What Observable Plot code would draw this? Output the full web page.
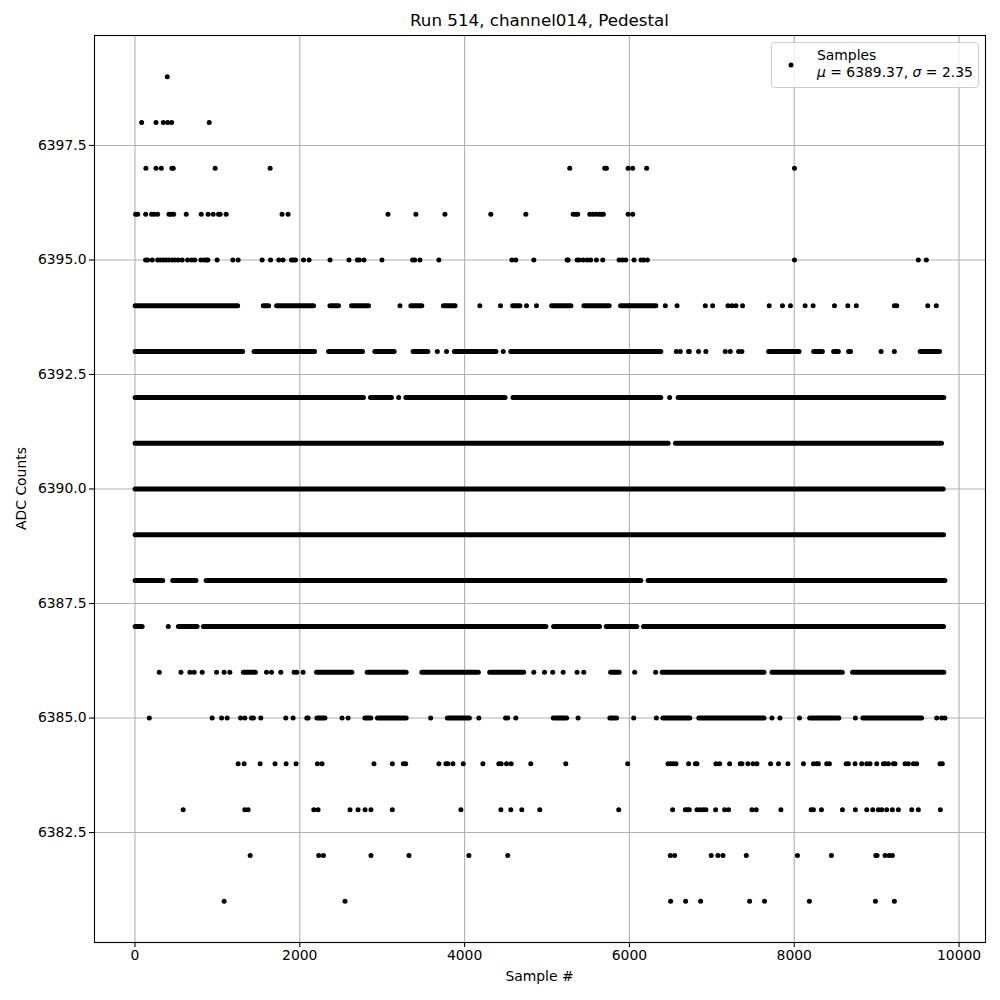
<!DOCTYPE html>
<html><head><meta charset="utf-8">
<script src="https://cdn.jsdelivr.net/npm/d3@7"></script>
<script src="https://cdn.jsdelivr.net/npm/@observablehq/plot@0.6"></script>
<style>body{margin:0;background:#fff}#chart{width:1000px;height:1000px}</style>
</head><body><div id="chart"></div>
<script>
const titleText = "Run 514, channel014, Pedestal";
const xLabel = "Sample #";
const yLabel = "ADC Counts";
const xTicks = [0, 2000, 4000, 6000, 8000, 10000];
const yTicks = [6382.5, 6385, 6387.5, 6390, 6392.5, 6395, 6397.5];
const legendName = "Samples";
const meanValue = 6389.37;
const sigmaValue = 2.35;

// ADC levels (one row of samples per level)
const adcLevels = [6399, 6398, 6397, 6396, 6395, 6394, 6393, 6392, 6391, 6390, 6389, 6388, 6387, 6386, 6385, 6384, 6383, 6382, 6381];

// individually visible samples per level (sample numbers)
const dotSamples = [
  [392],
  [81, 255, 344, 397, 445, 901],
  [133, 255, 319, 448, 464, 973, 1640, 5276, 5700, 5721, 5984, 6040, 6209, 8003],
  [8, 33, 130, 202, 234, 275, 412, 436, 469, 622, 804, 888, 949, 1014, 1033, 1106, 1785, 1858, 3070, 3409, 3761, 4318, 4743, 5317, 5349, 5373, 5519, 5555, 5591, 5632, 5660, 5684, 5984, 6040],
  [129, 154, 210, 275, 307, 343, 376, 412, 452, 485, 525, 573, 638, 687, 727, 800, 840, 869, 885, 997, 1188, 1252, 1543, 1645, 1745, 1797, 1899, 1923, 1948, 2045, 2113, 2367, 2597, 2699, 2723, 2780, 2997, 3369, 3394, 3458, 3688, 4573, 4621, 4840, 5244, 5256, 5365, 5390, 5438, 5487, 5530, 5600, 5676, 5875, 5915, 5955, 6056, 6141, 6173, 6218, 8003, 9506, 9603],
  [3216, 4185, 4436, 4751, 4872, 6436, 6578, 6921, 7010, 7196, 7244, 7293, 7373, 7696, 7857, 7954, 8132, 8229, 8488, 8650, 8754, 9215, 9244, 9620, 9724],
  [3669, 3781, 4469, 6569, 6617, 6718, 6727, 6839, 6928, 7163, 7224, 7325, 7365, 9054, 9215],
  [3200, 6488],
  [],
  [],
  [],
  [],
  [404],
  [295, 558, 667, 719, 816, 990, 1082, 1151, 1596, 1657, 1770, 1931, 1963, 2040, 4840, 4969, 5070, 5196, 5365, 5446, 6064, 6318],
  [174, 937, 1051, 1119, 1281, 1333, 1414, 1438, 1527, 1830, 1919, 2085, 2101, 2513, 2586, 3588, 4173, 4497, 4524, 4621, 5377, 6052, 6327, 7729, 7826, 8064, 8742, 9729, 9789, 9829],
  [1252, 1325, 1519, 1700, 1834, 1955, 2214, 2270, 2900, 3123, 3257, 3285, 3688, 3773, 3797, 3858, 3984, 4222, 4415, 4444, 4509, 4565, 4803, 5228, 5979, 6468, 6500, 6530, 6565, 6718, 6800, 6820, 7050, 7095, 7216, 7345, 7365, 7438, 7499, 7547, 7713, 7809, 7923, 8112, 8233, 8273, 8293, 8394, 8427, 8629, 8657, 8738, 8819, 8880, 8920, 9001, 9082, 9102, 9142, 9203, 9223, 9345, 9385, 9446, 9486, 9769, 9797],
  [585, 1333, 1373, 2170, 2222, 2610, 2707, 2792, 2864, 3123, 3955, 4440, 4561, 4694, 4912, 5870, 6524, 6678, 6706, 6727, 6820, 6860, 6895, 6928, 7046, 7155, 7203, 7487, 7539, 7838, 8205, 8233, 8330, 8585, 8742, 8880, 8953, 9021, 9062, 9122, 9191, 9264, 9426, 9506, 9773],
  [1398, 2230, 2287, 2864, 3325, 4052, 4524, 6496, 6549, 6993, 7074, 7135, 7418, 8039, 8451, 8990, 9005, 9102, 9151, 9191],
  [1082, 2549, 6500, 6682, 6864, 7458, 7639, 8184, 8985, 9215]
];

// runs of samples so dense that their dots merge into a line: [first, last]
const runSamples = [
  [], [], [], [], [],
  [[8, 1252], [1563, 1628], [1725, 2173], [2372, 2476], [2634, 2840], [3354, 3487], [3749, 3891], [4590, 4678], [5062, 5296], [5454, 5761], [5899, 6327]],
  [[8, 1313], [1451, 2186], [2355, 2767], [2917, 3151], [3381, 3560], [3882, 4387], [4566, 6387], [7696, 8064], [8242, 8347], [8484, 8541], [8666, 8690], [9535, 9769]],
  [[8, 2779], [2864, 3119], [3293, 4497], [4593, 6387], [6597, 9821]],
  [[8, 6476], [6565, 9793]],
  [[8, 9813]],
  [[8, 9818]],
  [[8, 343], [464, 747], [869, 6145], [6233, 9834]],
  [[8, 93], [533, 760], [836, 4993], [5086, 5644], [5725, 6096], [6177, 9818]],
  [[1321, 1467], [2209, 2638], [2824, 3297], [3487, 4173], [4311, 4723], [5778, 5882], [6403, 7639], [7736, 8589], [8714, 9821]],
  [[2214, 2311], [2796, 2868], [2949, 3297], [3797, 4064], [5082, 5244], [5769, 5850], [6412, 6739], [6848, 7639], [8193, 8548], [8839, 9551]],
  [], [], [], []
];

const dotRows = adcLevels.flatMap((lv, i) => dotSamples[i].map(s => ({sample: s, adc: lv})));
const runRows = adcLevels.flatMap((lv, i) => runSamples[i].map(([a, b]) => ({start: a, end: b, adc: lv})));

const W = 1000, H = 1000, mL = 94, mR = 15, mT = 35, mB = 58;
const font = "'DejaVu Sans', sans-serif";

const chart = Plot.plot({
  width: W, height: H,
  marginLeft: mL, marginRight: mR, marginTop: mT, marginBottom: mB,
  style: {fontFamily: font, fontSize: "13.9px", background: "white", color: "black", overflow: "visible"},
  x: {domain: [-491, 10321], label: null},
  y: {domain: [6380.1, 6399.9], label: null},
  marks: [
    Plot.gridX({ticks: xTicks, stroke: "#b0b0b0", strokeOpacity: 1, strokeWidth: 1.1}),
    Plot.gridY({ticks: yTicks, stroke: "#b0b0b0", strokeOpacity: 1, strokeWidth: 1.1}),
    Plot.ruleY(runRows, {y: "adc", x1: "start", x2: "end", stroke: "black", strokeWidth: 5, strokeLinecap: "round"}),
    Plot.dot(dotRows, {x: "sample", y: "adc", r: 2.5, fill: "black", stroke: "none"}),
    Plot.frame({stroke: "black", strokeWidth: 1.1}),
    Plot.axisX({ticks: xTicks, tickSize: 5, tickPadding: 3, label: null, tickFormat: d => String(d), stroke: "black", strokeWidth: 1.1}),
    Plot.axisY({ticks: yTicks, tickSize: 5, tickPadding: 3, label: null, tickFormat: d => d.toFixed(1), stroke: "black", strokeWidth: 1.1})
  ]
});
document.getElementById("chart").appendChild(chart);

const svg = d3.select(chart);
const cx = (mL + (W - mR)) / 2;
svg.append("text").attr("x", cx).attr("y", 26).attr("text-anchor", "middle")
  .attr("font-family", font).attr("font-size", "16.7px").attr("fill", "black").text(titleText);
svg.append("text").attr("x", cx).attr("y", 981).attr("text-anchor", "middle")
  .attr("font-family", font).attr("font-size", "13.9px").attr("fill", "black").text(xLabel);
const yc = (mT + (H - mB)) / 2;
svg.append("text").attr("transform", `translate(26,${yc}) rotate(-90)`).attr("text-anchor", "middle")
  .attr("font-family", font).attr("font-size", "13.9px").attr("fill", "black").text(yLabel);

// legend
const lg = svg.append("g").attr("text-anchor", "start");
lg.append("rect").attr("x", 771.5).attr("y", 42.5).attr("width", 207).attr("height", 45).attr("rx", 3)
  .attr("fill", "white").attr("fill-opacity", 0.8).attr("stroke", "#cccccc").attr("stroke-width", 1);
lg.append("circle").attr("cx", 791).attr("cy", 65).attr("r", 2.5).attr("fill", "black");
lg.append("text").attr("x", 817).attr("y", 60).attr("text-anchor", "start").attr("font-family", font).attr("font-size", "13.9px").attr("fill", "black").text(legendName);
const t2 = lg.append("text").attr("x", 817).attr("y", 77).attr("text-anchor", "start").attr("font-family", font).attr("font-size", "13.9px").attr("fill", "black");
t2.append("tspan").attr("font-style", "italic").text("μ");
t2.append("tspan").text(` = ${meanValue.toFixed(2)}, `);
t2.append("tspan").attr("font-style", "italic").text("σ");
t2.append("tspan").text(` = ${sigmaValue.toFixed(2)}`);
</script>
</body></html>
